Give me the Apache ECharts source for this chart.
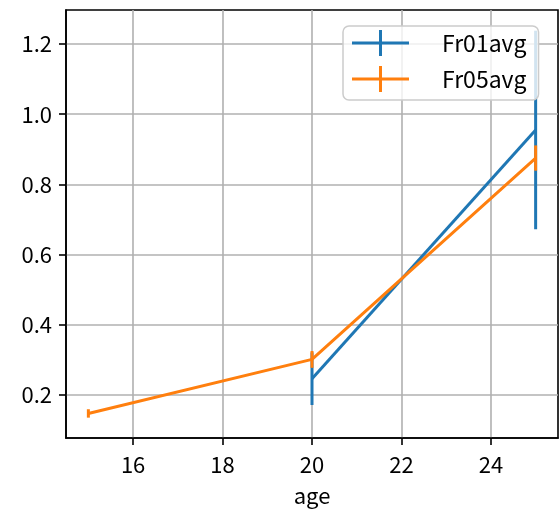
<!DOCTYPE html>
<html>
<head>
<meta charset="utf-8">
<script src="https://cdn.jsdelivr.net/npm/echarts@6/dist/echarts.min.js"></script>
<style>html,body{margin:0;padding:0;background:#fff}#c{width:559px;height:511px}</style>
</head>
<body>
<div id="c"></div>
<script>
const ages = [15, 20, 25];
const fr01 = [null, 0.246, 0.955];
const fr01Err = [null, 0.075, 0.283];
const fr05 = [0.147, 0.301, 0.875];
const fr05Err = [0.012, 0.024, 0.036];
const xTicks = [16, 18, 20, 22, 24];
const yTicks = [0.2, 0.4, 0.6, 0.8, 1.0, 1.2];
const seriesNames = ['Fr01avg', 'Fr05avg'];
const colors = ['#1f77b4', '#ff7f0e'];

const FONT = '"Noto Sans CJK JP", "DejaVu Sans", sans-serif';

function lineData(vals) {
  const out = [];
  ages.forEach((a, i) => { if (vals[i] != null) out.push([a, vals[i]]); });
  return out;
}
function errData(vals, errs) {
  const out = [];
  ages.forEach((a, i) => { if (vals[i] != null) out.push([a, vals[i] - errs[i], vals[i] + errs[i]]); });
  return out;
}
function errSeries(name, color, vals, errs) {
  return {
    name: name,
    type: 'custom',
    silent: true,
    data: errData(vals, errs),
    encode: { x: 0, y: [1, 2] },
    renderItem: function (params, api) {
      const lo = api.coord([api.value(0), api.value(1)]);
      const hi = api.coord([api.value(0), api.value(2)]);
      return {
        type: 'line',
        shape: { x1: lo[0], y1: lo[1], x2: hi[0], y2: hi[1] },
        style: { stroke: color, lineWidth: 3, lineCap: 'butt' }
      };
    }
  };
}
function lineSeries(name, color, vals) {
  return {
    name: name,
    type: 'line',
    data: lineData(vals),
    showSymbol: false,
    symbol: 'none',
    itemStyle: { color: color },
    lineStyle: { color: color, width: 3 },
    animation: false
  };
}

const plusIcon = 'path://M0 11.5H27V0H30V11.5H57V14.5H30V26H27V14.5H0Z';

const option = {
  animation: false,
  grid: { left: 66, right: 1, top: 10, bottom: 73, outerBoundsMode: 'none', containLabel: false, show: true, borderColor: '#000', borderWidth: 1.6, backgroundColor: 'transparent' },
  legend: {
    data: seriesNames,
    orient: 'vertical',
    left: 343,
    top: 26,
    icon: plusIcon,
    itemWidth: 57,
    itemHeight: 26,
    itemGap: 10,
    padding: [4, 12, 8, 9],
    backgroundColor: 'rgba(255,255,255,0.8)',
    borderColor: '#cccccc',
    borderWidth: 1.5,
    borderRadius: 6,
    textStyle: { fontFamily: FONT, fontSize: 23, color: '#000', padding: [0, 0, 0, 28] }
  },
  xAxis: {
    type: 'value',
    min: 14.5,
    max: 25.5,
    name: 'age',
    nameLocation: 'middle',
    nameGap: 47,
    nameTextStyle: { fontFamily: FONT, fontSize: 22, color: '#000' },
    axisLine: { show: true, lineStyle: { color: '#000', width: 1.6 } },
    axisTick: { show: true, customValues: xTicks, length: 7, lineStyle: { color: '#000', width: 1.6 } },
    axisLabel: { customValues: xTicks, margin: 16, fontFamily: FONT, fontSize: 22, color: '#000' },
    splitLine: { show: true, lineStyle: { color: '#b0b0b0', width: 1.6 } }
  },
  yAxis: {
    type: 'value',
    min: 0.077,
    max: 1.297,
    axisLine: { show: true, lineStyle: { color: '#000', width: 1.6 } },
    axisTick: { show: true, customValues: yTicks, length: 7, lineStyle: { color: '#000', width: 1.6 } },
    axisLabel: { customValues: yTicks, margin: 14, fontFamily: FONT, fontSize: 22, color: '#000', formatter: v => v.toFixed(1) },
    splitLine: { show: true, lineStyle: { color: '#b0b0b0', width: 1.6 } }
  },
  series: [
    lineSeries(seriesNames[0], colors[0], fr01),
    errSeries('Fr01avg err', colors[0], fr01, fr01Err),
    lineSeries(seriesNames[1], colors[1], fr05),
    errSeries('Fr05avg err', colors[1], fr05, fr05Err)
  ]
};

const chart = echarts.init(document.getElementById('c'), null, { renderer: 'canvas' });
chart.setOption(option);
</script>
</body>
</html>
